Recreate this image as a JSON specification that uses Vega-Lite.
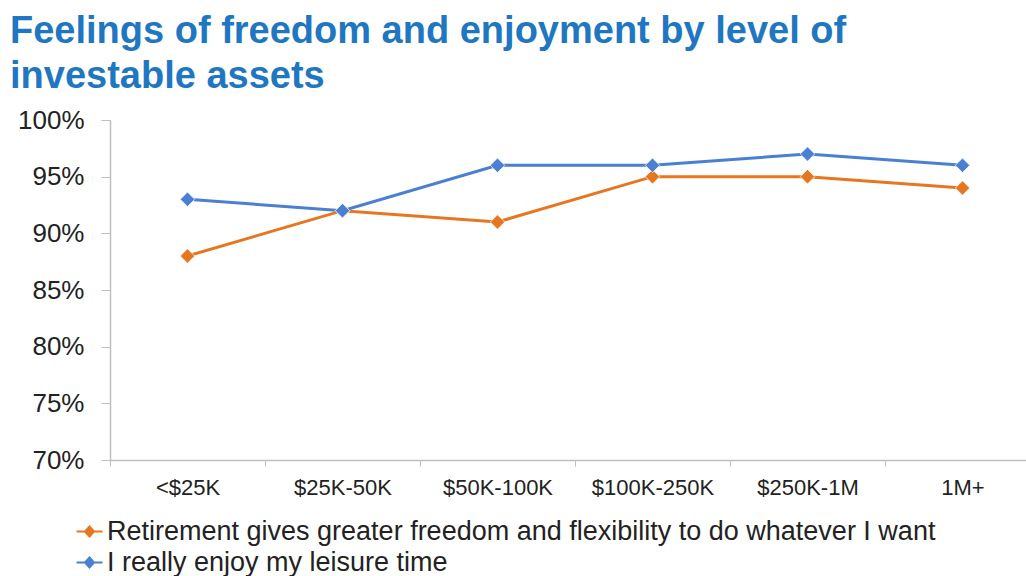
{
  "$schema": "https://vega.github.io/schema/vega-lite/v6.json",
  "autosize": {"type": "none"},
  "width": 916,
  "height": 340,
  "padding": {"left": 110, "top": 120, "right": 0, "bottom": 116},
  "background": "white",
  "title": {
    "text": ["Feelings of freedom and enjoyment by level of", "investable assets"],
    "anchor": "start",
    "frame": "group",
    "font": "Liberation Sans",
    "fontSize": 38,
    "fontWeight": "bold",
    "color": "#1F77C2",
    "lineHeight": 45,
    "dx": -100,
    "offset": 11
  },
  "config": {
    "view": {"stroke": null},
    "font": "Liberation Sans"
  },
  "data": {
    "values": [
      {"assets": "<$25K", "series": "Retirement gives greater freedom and flexibility to do whatever I want", "value": 0.88},
      {"assets": "$25K-50K", "series": "Retirement gives greater freedom and flexibility to do whatever I want", "value": 0.92},
      {"assets": "$50K-100K", "series": "Retirement gives greater freedom and flexibility to do whatever I want", "value": 0.91},
      {"assets": "$100K-250K", "series": "Retirement gives greater freedom and flexibility to do whatever I want", "value": 0.95},
      {"assets": "$250K-1M", "series": "Retirement gives greater freedom and flexibility to do whatever I want", "value": 0.95},
      {"assets": "1M+", "series": "Retirement gives greater freedom and flexibility to do whatever I want", "value": 0.94},
      {"assets": "<$25K", "series": "I really enjoy my leisure time", "value": 0.93},
      {"assets": "$25K-50K", "series": "I really enjoy my leisure time", "value": 0.92},
      {"assets": "$50K-100K", "series": "I really enjoy my leisure time", "value": 0.96},
      {"assets": "$100K-250K", "series": "I really enjoy my leisure time", "value": 0.96},
      {"assets": "$250K-1M", "series": "I really enjoy my leisure time", "value": 0.97},
      {"assets": "1M+", "series": "I really enjoy my leisure time", "value": 0.96}
    ]
  },
  "encoding": {
    "x": {
      "field": "assets",
      "type": "nominal",
      "sort": ["<$25K", "$25K-50K", "$50K-100K", "$100K-250K", "$250K-1M", "1M+"],
      "bandPosition": 0.5,
      "scale": {"type": "band", "paddingInner": 0, "paddingOuter": 0, "range": [0, 930]},
      "axis": {
        "title": null,
        "labelAngle": 0,
        "labelFontSize": 22,
        "labelColor": "#222222",
        "labelPadding": 11,
        "tickBand": "extent",
        "tickSize": 6,
        "tickColor": "#BFBFBF",
        "domainColor": "#BFBFBF",
        "domainWidth": 1.5,
        "grid": false
      }
    },
    "y": {
      "field": "value",
      "type": "quantitative",
      "scale": {"domain": [0.7, 1.0], "nice": false, "zero": false},
      "axis": {
        "title": null,
        "format": ".0%",
        "values": [0.7, 0.75, 0.8, 0.85, 0.9, 0.95, 1.0],
        "labelFontSize": 26,
        "labelColor": "#222222",
        "labelPadding": 17,
        "tickSize": 9,
        "tickColor": "#BFBFBF",
        "domainColor": "#BFBFBF",
        "domainWidth": 1.5,
        "grid": false
      }
    },
    "color": {
      "field": "series",
      "type": "nominal",
      "sort": ["Retirement gives greater freedom and flexibility to do whatever I want", "I really enjoy my leisure time"],
      "scale": {
        "domain": ["Retirement gives greater freedom and flexibility to do whatever I want", "I really enjoy my leisure time"],
        "range": ["#E6761F", "#4A7FD3"]
      },
      "legend": {
        "title": null,
        "orient": "none",
        "legendX": -34,
        "legendY": 398,
        "labelFontSize": 27,
        "labelColor": "#222222",
        "labelLimit": 1000,
        "labelOffset": 4,
        "symbolType": "M-1.3,0H-0.35M0.35,0H1.3M0,-0.5L0.45,0L0,0.5L-0.45,0Z",
        "symbolSize": 400,
        "symbolStrokeWidth": 2,
        "rowPadding": 3
      }
    }
  },
  "layer": [
    {"mark": {"type": "line", "strokeWidth": 3}},
    {"mark": {"type": "point", "shape": "diamond", "filled": true, "size": 210, "opacity": 1, "stroke": "#FFFFFF", "strokeWidth": 1, "strokeOpacity": 0.7}}
  ]
}
